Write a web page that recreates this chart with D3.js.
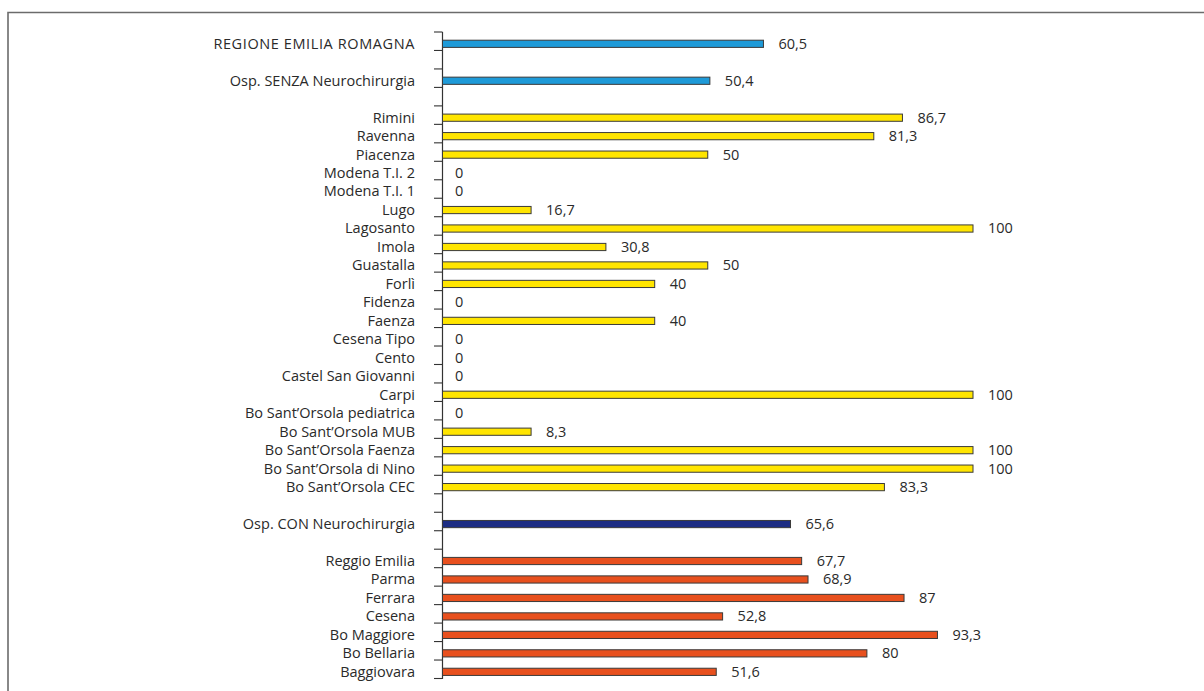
<!DOCTYPE html>
<html><head><meta charset="utf-8">
<script src="https://cdn.jsdelivr.net/npm/d3@7"></script>
<style>
html,body{margin:0;padding:0;background:#fff;}
svg{display:block;}
text{font-family:"Open Sans","Noto Sans",sans-serif;}
</style></head>
<body>
<script>
// Slots top-to-bottom; empty string = spacer slot
const categories = [
  "REGIONE EMILIA ROMAGNA", "",
  "Osp. SENZA Neurochirurgia", "",
  "Rimini","Ravenna","Piacenza","Modena T.I. 2","Modena T.I. 1","Lugo","Lagosanto","Imola",
  "Guastalla","Forlì","Fidenza","Faenza","Cesena Tipo","Cento","Castel San Giovanni","Carpi",
  "Bo Sant’Orsola pediatrica","Bo Sant’Orsola MUB","Bo Sant’Orsola Faenza","Bo Sant’Orsola di Nino","Bo Sant’Orsola CEC", "",
  "Osp. CON Neurochirurgia", "",
  "Reggio Emilia","Parma","Ferrara","Cesena","Bo Maggiore","Bo Bellaria","Baggiovara"
];
// bar lengths as drawn in the picture
const values = [
  60.5, null,
  50.4, null,
  86.7, 81.3, 50, 0, 0, 16.7, 100, 30.8,
  50, 40, 0, 40, 0, 0, 0, 100,
  0, 16.7, 100, 100, 83.3, null,
  65.6, null,
  67.7, 68.9, 87, 52.8, 93.3, 80, 51.6
];
// printed value labels as they appear in the picture
const valueLabels = [
  "60,5", null,
  "50,4", null,
  "86,7","81,3","50","0","0","16,7","100","30,8",
  "50","40","0","40","0","0","0","100",
  "0","8,3","100","100","83,3", null,
  "65,6", null,
  "67,7","68,9","87","52,8","93,3","80","51,6"
];
const groups = [
  "total", null,
  "senza", null,
  "senzaH","senzaH","senzaH","senzaH","senzaH","senzaH","senzaH","senzaH",
  "senzaH","senzaH","senzaH","senzaH","senzaH","senzaH","senzaH","senzaH",
  "senzaH","senzaH","senzaH","senzaH","senzaH", null,
  "con", null,
  "conH","conH","conH","conH","conH","conH","conH"
];
const groupKeys = ["total","senza","senzaH","con","conH"];
const groupColors = ["#1E9AD8","#1E9AD8","#FFE500","#1C2C83","#E8501E"];

const W = 1204, H = 691;
const svg = d3.select("body").append("svg").attr("width", W).attr("height", H);

// frame
svg.append("path").attr("d", "M8,"+H+" L8,12.5 L"+W+",12.5")
  .attr("fill","none").attr("stroke","#6b6b6b").attr("stroke-width",1.6);

const x0 = 442.5;
const x = d3.scaleLinear().domain([0,100]).range([x0, 973]);
const y = d3.scaleBand().domain(d3.range(categories.length)).range([32, 678.5]).padding(0);
const color = d3.scaleOrdinal().domain(groupKeys).range(groupColors);

const bw = y.bandwidth();
const barOff = 8.2, barH = 7.2;

// ticks at slot boundaries
const boundaries = d3.range(categories.length + 1).map(i => 32 + i * bw);
svg.append("g").selectAll("line").data(boundaries).join("line")
  .attr("x1", x0 - 8.5).attr("x2", x0).attr("y1", d => d).attr("y2", d => d)
  .attr("stroke", "#333").attr("stroke-width", 1.1);
svg.append("line").attr("x1", x0).attr("x2", x0).attr("y1", 32).attr("y2", 679)
  .attr("stroke", "#333").attr("stroke-width", 1.2);

const rows = categories.map((c, i) => ({c, v: values[i], lab: valueLabels[i], g: groups[i], i})).filter(d => d.v !== null);

// bars
svg.append("g").selectAll("rect").data(rows.filter(d => d.v > 0)).join("rect")
  .attr("x", x(0)).attr("y", d => y(d.i) + barOff)
  .attr("width", d => x(d.v) - x(0)).attr("height", barH)
  .attr("fill", d => color(d.g)).attr("stroke", "#3a3a3a").attr("stroke-width", 1);

// category labels
svg.append("g").selectAll("text").data(rows).join("text")
  .attr("x", 415).attr("y", d => y(d.i) + barOff + barH/2 + 1)
  .attr("text-anchor", "end").attr("dominant-baseline", "middle")
  .attr("font-size", 14.5).attr("fill", "#2a2a2a")
  .attr("letter-spacing", d => d.c === d.c.toUpperCase() ? 0.6 : 0)
  .text(d => d.c);

// value labels
svg.append("g").selectAll("text").data(rows).join("text")
  .attr("x", d => x(d.v) + (d.v > 0 ? 15 : 12.5)).attr("y", d => y(d.i) + barOff + barH/2 + 1)
  .attr("dominant-baseline", "middle")
  .attr("font-size", 14.5).attr("fill", "#2a2a2a").text(d => d.lab);
</script>
</body></html>
